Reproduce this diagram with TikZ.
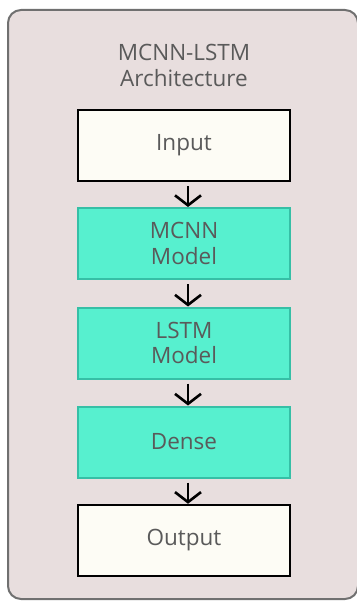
\documentclass[tikz,border=0pt]{standalone}
\usepackage{fontspec}
\setmainfont{Open Sans}
\usetikzlibrary{arrows.meta}
\definecolor{bgpink}{HTML}{E8DEDE}
\definecolor{frame}{HTML}{707070}
\definecolor{teal}{HTML}{57F0CF}
\definecolor{tealedge}{HTML}{36BFA6}
\definecolor{cream}{HTML}{FDFCF5}
\definecolor{txt}{HTML}{5A5A5A}
\begin{document}
\begin{tikzpicture}[x=1pt,y=-1pt,
  blk/.style={minimum width=212pt,minimum height=71pt,inner sep=0pt,align=center,text=txt,font=\fontsize{22.5}{25.5}\selectfont},
  plainbox/.style={blk,draw=black,line width=2.5pt,fill=cream},
  tealbox/.style={blk,draw=tealedge,line width=2pt,fill=teal},
  flow/.style={line width=2.6pt,-{Straight Barb[length=10pt,width=26pt,line width=2.6pt]}}]
\useasboundingbox (0,0) rectangle (356,601);
\draw[draw=frame,fill=bgpink,line width=2pt,rounded corners=13pt] (8,10) rectangle (358,599);
\node[text=txt,align=center,font=\fontsize{22.5}{26}\selectfont] (title) at (184,65) {MCNN-LSTM\\Architecture};
\node[plainbox] (input) at (184,145.5) {Input};
\node[tealbox] (mcnn) at (184,243.5) {MCNN\\Model};
\node[tealbox] (lstm) at (184,343) {LSTM\\Model};
\node[tealbox] (dense) at (184,442) {Dense};
\node[plainbox] (output) at (184,540.5) {Output};
\draw[flow] ([xshift=4pt,yshift=-4pt]input.south) -- ([xshift=4pt]mcnn.north);
\draw[flow] ([xshift=4pt,yshift=-4pt]mcnn.south) -- ([xshift=4pt]lstm.north);
\draw[flow] ([xshift=4pt,yshift=-4pt]lstm.south) -- ([xshift=4pt]dense.north);
\draw[flow] ([xshift=4pt,yshift=-4pt]dense.south) -- ([xshift=4pt]output.north);
\end{tikzpicture}
\end{document}
